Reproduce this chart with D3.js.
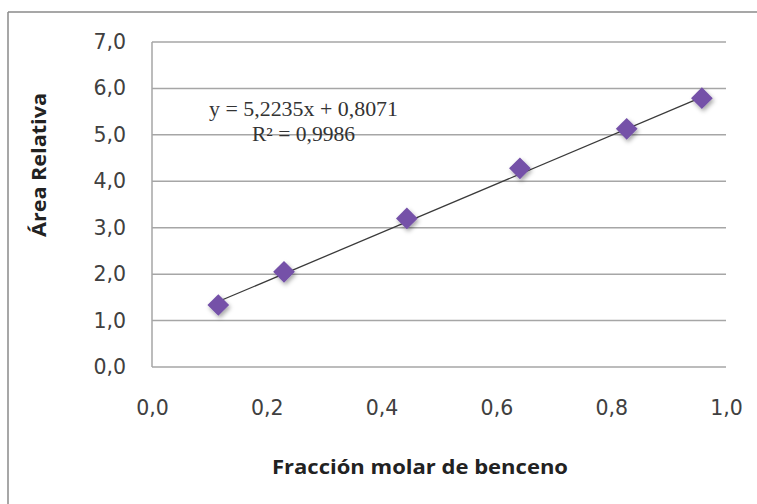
<!DOCTYPE html>
<html><head><meta charset="utf-8">
<script src="https://cdn.jsdelivr.net/npm/d3@7"></script>
<style>html,body{margin:0;padding:0;background:#fff;overflow:hidden;}svg{display:block;}</style>
</head><body>
<script>
// Data
const fraccion = [0.1155, 0.230, 0.444, 0.641, 0.827, 0.958];
const area = [1.335, 2.05, 3.20, 4.28, 5.13, 5.79];
const xTicks = [0.0, 0.2, 0.4, 0.6, 0.8, 1.0];
const yTicks = [0, 1, 2, 3, 4, 5, 6, 7];
const slope = 5.2235, intercept = 0.8071;
const eqText = "y = 5,2235x + 0,8071";
const r2Text = "R² = 0,9986";
const xTitle = "Fracción molar de benceno";
const yTitle = "Área Relativa";

const W = 757, H = 504;
const svg = d3.select("body").append("svg").attr("width", W).attr("height", H);
const defs = svg.append("defs");
const f = defs.append("filter").attr("id","sh").attr("x","-50%").attr("y","-50%").attr("width","200%").attr("height","200%");
f.append("feDropShadow").attr("dx",1.5).attr("dy",2.5).attr("stdDeviation",2).attr("flood-color","#000").attr("flood-opacity",0.35);

// frame (top and left edges visible)
svg.append("line").attr("x1",8).attr("x2",W).attr("y1",12).attr("y2",12)
  .attr("stroke","#8a8a8a").attr("stroke-width",1.5);
svg.append("line").attr("x1",8).attr("x2",8).attr("y1",12).attr("y2",H)
  .attr("stroke","#8a8a8a").attr("stroke-width",1.5);

const x = d3.scaleLinear().domain([0,1]).range([152,726]);
const y = d3.scaleLinear().domain([0,7]).range([367,42]);
const fmt = d => d3.format(".1f")(d).replace(".", ",");

// gridlines
svg.append("g").selectAll("line").data(yTicks).join("line")
  .attr("x1",x(0)).attr("x2",x(1)).attr("y1",d=>y(d)).attr("y2",d=>y(d))
  .attr("stroke","#a6a6a6").attr("stroke-width",1.5);
// left axis line
svg.append("line").attr("x1",x(0)).attr("x2",x(0)).attr("y1",y(0)).attr("y2",y(7))
  .attr("stroke","#a6a6a6").attr("stroke-width",1.5);

// y axis labels
const yAxis = d3.axisLeft(y).tickValues(yTicks).tickFormat(fmt).tickSize(0).tickPadding(0);
const gy = svg.append("g").attr("transform",`translate(126,0)`).call(yAxis);
gy.select(".domain").remove();
gy.selectAll("text").attr("font-family","DejaVu Sans").attr("font-size",20.5).attr("fill","#404040");

const xAxis = d3.axisBottom(x).tickValues(xTicks).tickFormat(fmt).tickSize(0).tickPadding(0);
const gx = svg.append("g").attr("transform",`translate(0,400)`).call(xAxis);
gx.select(".domain").remove();
gx.selectAll("text").attr("font-family","DejaVu Sans").attr("font-size",20.5).attr("fill","#404040");

// trendline
const xmin = d3.min(fraccion), xmax = d3.max(fraccion);
svg.append("line").attr("x1",x(xmin)).attr("y1",y(slope*xmin+intercept))
  .attr("x2",x(xmax)).attr("y2",y(slope*xmax+intercept))
  .attr("stroke","#3a3a3a").attr("stroke-width",1.3);

// markers
const sym = d3.symbol().type(d3.symbolDiamond2).size(300);
svg.append("g").selectAll("path").data(fraccion).join("path")
  .attr("d", sym)
  .attr("transform",(d,i)=>`translate(${x(d)},${y(area[i])})`)
  .attr("fill","#7451a8").attr("filter","url(#sh)");

// equation
svg.append("text").attr("x",209).attr("y",116).text(eqText)
  .attr("font-family","Liberation Serif").attr("font-size",20).attr("fill","#333")
  .attr("textLength",189).attr("lengthAdjust","spacingAndGlyphs");
svg.append("text").attr("x",252).attr("y",141).text(r2Text)
  .attr("font-family","Liberation Serif").attr("font-size",20).attr("fill","#333")
  .attr("textLength",103).attr("lengthAdjust","spacingAndGlyphs");

// axis titles
svg.append("text").attr("x",420).attr("y",474).attr("text-anchor","middle").text(xTitle)
  .attr("font-family","Open Sans").attr("font-weight","bold").attr("font-size",20).attr("fill","#222")
  .attr("textLength",296).attr("lengthAdjust","spacingAndGlyphs");
svg.append("text").attr("transform","translate(46,165) rotate(-90)").attr("text-anchor","middle").text(yTitle)
  .attr("font-family","Open Sans").attr("font-weight","bold").attr("font-size",20).attr("fill","#222")
  .attr("textLength",144).attr("lengthAdjust","spacingAndGlyphs");
</script>
</body></html>
